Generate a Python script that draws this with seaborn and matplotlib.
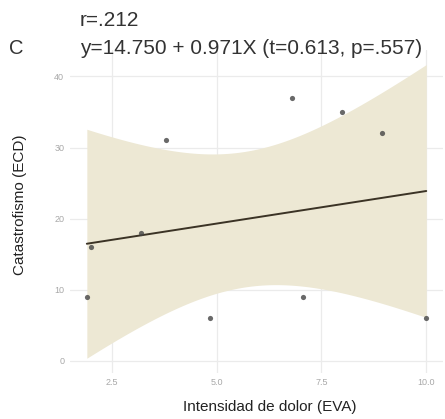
# -*- coding: utf-8 -*-
"""
Grafico de dispersion: intensidad de dolor vs catastrofismo
"""

import numpy as np
import pandas as pd
import matplotlib
matplotlib.use("Agg")
import matplotlib.pyplot as plt
import seaborn as sns

# Datos
eva = [1.9, 2.0, 3.2, 3.8, 4.85, 6.8, 7.05, 8.0, 8.95, 10.0]
ecd = [9, 16, 18, 31, 6, 37, 9, 35, 32, 6]

titulo_r = "r=.212"
titulo_eq = "y=14.750 + 0.971X (t=0.613, p=.557)"
panel = "C"
x_ticks = [2.5, 5.0, 7.5, 10.0]
y_ticks = [0, 10, 20, 30, 40]

COLOR_BANDA = "#ede8d4"
COLOR_LINEA = "#3b3325"
COLOR_PUNTO = "#444444"
COLOR_GRIS = "#a8a8a8"

sns.set_theme(style="whitegrid")
plt.rcParams["font.family"] = ["Liberation Sans", "DejaVu Sans"]

datos = pd.DataFrame({"EVA": eva, "ECD": ecd})

fig = plt.figure(figsize=(4.45, 4.19), dpi=100)
ax = fig.add_axes([0.157, 0.110, 0.839, 0.771])

# Banda de confianza al 95% (t con n-2 grados de libertad), estilo geom_smooth
x = datos["EVA"].to_numpy()
y = datos["ECD"].to_numpy()
n = len(x)
b1, b0 = np.polyfit(x, y, 1)
resid = y - (b0 + b1 * x)
s = np.sqrt(np.sum(resid ** 2) / (n - 2))
sxx = np.sum((x - x.mean()) ** 2)
t_crit = 2.306  # t(0.975, gl=8)
xs = np.linspace(x.min(), x.max(), 100)
ys = b0 + b1 * xs
se = s * np.sqrt(1 / n + (xs - x.mean()) ** 2 / sxx)
lo, hi = ys - t_crit * se, ys + t_crit * se
ax.fill_between(xs, lo, hi, color=COLOR_BANDA, linewidth=0, zorder=1)

# Linea de regresion y puntos
sns.regplot(data=datos, x="EVA", y="ECD", ci=None, ax=ax,
            scatter_kws={"s": 14, "color": COLOR_PUNTO, "zorder": 3, "linewidths": 0},
            line_kws={"color": COLOR_LINEA, "linewidth": 1.4, "zorder": 2})

# Limites con expansion del 5% (como ggplot)
xr = x.max() - x.min()
ax.set_xlim(x.min() - 0.05 * xr, x.max() + 0.05 * xr)
ymin, ymax = min(lo.min(), y.min()), max(hi.max(), y.max())
yr = ymax - ymin
ax.set_ylim(ymin - 0.05 * yr, ymax + 0.05 * yr)

ax.set_xticks(x_ticks)
ax.set_xticklabels([f"{v:.1f}" for v in x_ticks])
ax.set_yticks(y_ticks)
ax.tick_params(axis="both", labelsize=6.5, colors=COLOR_GRIS, length=0, pad=4)

ax.set_facecolor("white")
for sp in ax.spines.values():
    sp.set_visible(False)
ax.grid(True, color="#ebebeb", linewidth=0.9)

ax.set_xlabel("Intensidad de dolor (EVA)", fontsize=11, color="#222222")
ax.set_ylabel("Catastrofismo (ECD)", fontsize=11, color="#222222")
ax.xaxis.set_label_coords(0.535, -0.085)
ax.yaxis.set_label_coords(-0.115, 0.52)

# Titulos
fig.text(80 / 445, 1 - 21 / 419, titulo_r, fontsize=15, color="#333333", va="center", ha="left")
fig.text(80 / 445, 1 - 48 / 419, titulo_eq, fontsize=15, color="#333333", va="center", ha="left")
fig.text(9 / 445, 1 - 48 / 419, panel, fontsize=14.5, color="#333333", va="center", ha="left")

fig.savefig("out.png", dpi=100)
